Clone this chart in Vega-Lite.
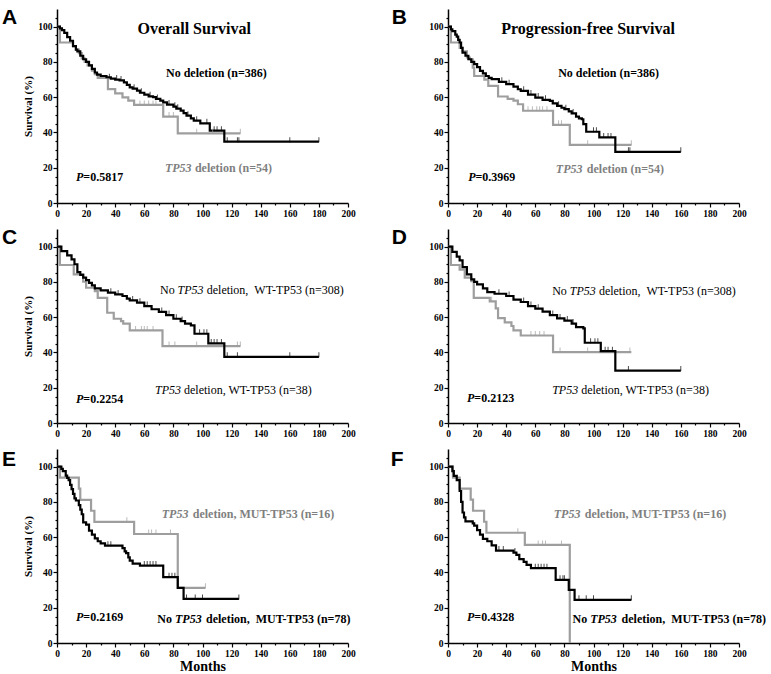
{
"$schema":"https://vega.github.io/schema/vega-lite/v6.json",
"padding":{"left":2,"top":7,"right":0,"bottom":0},
"config":{
 "view":{"stroke":null},
 "axis":{"domainColor":"#000","domainWidth":1.5,"tickColor":"#000","tickWidth":1.2,"labelFont":"Liberation Serif","labelFontWeight":"bold","labelFontSize":9.5,"labelColor":"#000","labelPadding":1,"labelOverlap":false,"labelFlush":false,"titleFont":"Liberation Serif","titleFontWeight":"bold","titleColor":"#000","grid":false},
 "axisX":{"titleFontSize":14,"titlePadding":2},
 "axisY":{"titleFontSize":11,"titlePadding":4},
 "text":{"font":"Liberation Serif","fontSize":12,"fontWeight":"bold","baseline":"middle","align":"left","color":"#000"}
},
"datasets":{
"km":[
{"p":"A","g":"del","t":0,"s":100},{"p":"A","g":"del","t":2,"s":91},{"p":"A","g":"del","t":11,"s":89},{"p":"A","g":"del","t":13,"s":87},{"p":"A","g":"del","t":15,"s":85},{"p":"A","g":"del","t":17,"s":82},{"p":"A","g":"del","t":19,"s":80},{"p":"A","g":"del","t":21,"s":78},{"p":"A","g":"del","t":24,"s":75},{"p":"A","g":"del","t":26,"s":73},{"p":"A","g":"del","t":28,"s":71},{"p":"A","g":"del","t":35,"s":64.6},{"p":"A","g":"del","t":40,"s":62.2},{"p":"A","g":"del","t":45,"s":59.9},{"p":"A","g":"del","t":49,"s":58},{"p":"A","g":"del","t":53,"s":55.6},{"p":"A","g":"del","t":73,"s":49},{"p":"A","g":"del","t":83,"s":39.5},{"p":"A","g":"del","t":126,"s":39.5},
{"p":"A","g":"no","t":0,"s":100},{"p":"A","g":"no","t":2,"s":99},{"p":"A","g":"no","t":3.4,"s":98},{"p":"A","g":"no","t":5,"s":96.5},{"p":"A","g":"no","t":7,"s":94},{"p":"A","g":"no","t":9,"s":92},{"p":"A","g":"no","t":11,"s":89},{"p":"A","g":"no","t":13,"s":87},{"p":"A","g":"no","t":14,"s":86},{"p":"A","g":"no","t":16,"s":83.5},{"p":"A","g":"no","t":18,"s":81.5},{"p":"A","g":"no","t":20,"s":80},{"p":"A","g":"no","t":22,"s":78},{"p":"A","g":"no","t":24,"s":76},{"p":"A","g":"no","t":26,"s":74},{"p":"A","g":"no","t":27.5,"s":72.8},{"p":"A","g":"no","t":30,"s":72},{"p":"A","g":"no","t":34,"s":71.3},{"p":"A","g":"no","t":37,"s":70.5},{"p":"A","g":"no","t":40,"s":70},{"p":"A","g":"no","t":43,"s":69.5},{"p":"A","g":"no","t":46,"s":68.4},{"p":"A","g":"no","t":48,"s":67},{"p":"A","g":"no","t":50,"s":65.6},{"p":"A","g":"no","t":52,"s":64.8},{"p":"A","g":"no","t":55,"s":63.7},{"p":"A","g":"no","t":57,"s":62.5},{"p":"A","g":"no","t":60,"s":61.4},{"p":"A","g":"no","t":63,"s":60.5},{"p":"A","g":"no","t":66,"s":60},{"p":"A","g":"no","t":68,"s":59},{"p":"A","g":"no","t":71,"s":58},{"p":"A","g":"no","t":73,"s":57},{"p":"A","g":"no","t":75.6,"s":55.8},{"p":"A","g":"no","t":80,"s":54.6},{"p":"A","g":"no","t":82,"s":53.5},{"p":"A","g":"no","t":85,"s":52.4},{"p":"A","g":"no","t":87,"s":51},{"p":"A","g":"no","t":89,"s":49.5},{"p":"A","g":"no","t":92,"s":48},{"p":"A","g":"no","t":94,"s":46.7},{"p":"A","g":"no","t":98.5,"s":45.2},{"p":"A","g":"no","t":105,"s":41},{"p":"A","g":"no","t":115,"s":34.8},{"p":"A","g":"no","t":180,"s":34.8},
{"p":"B","g":"del","t":0,"s":100},{"p":"B","g":"del","t":2,"s":91},{"p":"B","g":"del","t":8,"s":88},{"p":"B","g":"del","t":10,"s":86},{"p":"B","g":"del","t":13,"s":82.5},{"p":"B","g":"del","t":15,"s":81.5},{"p":"B","g":"del","t":17,"s":76.8},{"p":"B","g":"del","t":18,"s":72},{"p":"B","g":"del","t":25,"s":70},{"p":"B","g":"del","t":27.7,"s":66.4},{"p":"B","g":"del","t":34.4,"s":60.4},{"p":"B","g":"del","t":41,"s":59},{"p":"B","g":"del","t":45,"s":58},{"p":"B","g":"del","t":48,"s":56},{"p":"B","g":"del","t":51.6,"s":52.3},{"p":"B","g":"del","t":72.2,"s":44.3},{"p":"B","g":"del","t":83.7,"s":33},{"p":"B","g":"del","t":126,"s":33},
{"p":"B","g":"no","t":0,"s":100},{"p":"B","g":"no","t":2,"s":98.5},{"p":"B","g":"no","t":3,"s":97.5},{"p":"B","g":"no","t":5,"s":95.5},{"p":"B","g":"no","t":6,"s":94.3},{"p":"B","g":"no","t":7,"s":92.5},{"p":"B","g":"no","t":8,"s":91},{"p":"B","g":"no","t":9,"s":88},{"p":"B","g":"no","t":10,"s":85.3},{"p":"B","g":"no","t":12,"s":83.5},{"p":"B","g":"no","t":14,"s":81.5},{"p":"B","g":"no","t":16,"s":80},{"p":"B","g":"no","t":18,"s":78.7},{"p":"B","g":"no","t":20,"s":77},{"p":"B","g":"no","t":22,"s":74.9},{"p":"B","g":"no","t":24,"s":73.5},{"p":"B","g":"no","t":26,"s":72},{"p":"B","g":"no","t":28,"s":71},{"p":"B","g":"no","t":30,"s":70.2},{"p":"B","g":"no","t":35,"s":68.7},{"p":"B","g":"no","t":40,"s":67.4},{"p":"B","g":"no","t":45,"s":66},{"p":"B","g":"no","t":48,"s":64.5},{"p":"B","g":"no","t":50,"s":63.6},{"p":"B","g":"no","t":55,"s":61.5},{"p":"B","g":"no","t":60,"s":59.8},{"p":"B","g":"no","t":65,"s":58.5},{"p":"B","g":"no","t":70,"s":57.9},{"p":"B","g":"no","t":72,"s":56.5},{"p":"B","g":"no","t":75,"s":55.1},{"p":"B","g":"no","t":78,"s":54},{"p":"B","g":"no","t":80,"s":53.2},{"p":"B","g":"no","t":83,"s":52},{"p":"B","g":"no","t":85,"s":50.8},{"p":"B","g":"no","t":88,"s":49},{"p":"B","g":"no","t":90,"s":48},{"p":"B","g":"no","t":92,"s":47.5},{"p":"B","g":"no","t":93,"s":44.7},{"p":"B","g":"no","t":95,"s":40.4},{"p":"B","g":"no","t":104,"s":37.2},{"p":"B","g":"no","t":115,"s":29},{"p":"B","g":"no","t":160,"s":29},
{"p":"C","g":"del","t":0,"s":100},{"p":"C","g":"del","t":2,"s":89.6},{"p":"C","g":"del","t":11.5,"s":84.3},{"p":"C","g":"del","t":18,"s":80.1},{"p":"C","g":"del","t":20,"s":76.7},{"p":"C","g":"del","t":26,"s":74.8},{"p":"C","g":"del","t":28,"s":71},{"p":"C","g":"del","t":34.5,"s":62.5},{"p":"C","g":"del","t":39,"s":59.1},{"p":"C","g":"del","t":44,"s":57.8},{"p":"C","g":"del","t":45.5,"s":56.4},{"p":"C","g":"del","t":50,"s":52.5},{"p":"C","g":"del","t":72.5,"s":43.6},{"p":"C","g":"del","t":126,"s":43.6},
{"p":"C","g":"no","t":0,"s":100},{"p":"C","g":"no","t":3,"s":97.5},{"p":"C","g":"no","t":7,"s":95},{"p":"C","g":"no","t":10,"s":92.8},{"p":"C","g":"no","t":12,"s":90},{"p":"C","g":"no","t":14,"s":85.6},{"p":"C","g":"no","t":16,"s":84},{"p":"C","g":"no","t":18,"s":82.4},{"p":"C","g":"no","t":20,"s":81},{"p":"C","g":"no","t":22,"s":79.5},{"p":"C","g":"no","t":24,"s":78},{"p":"C","g":"no","t":26,"s":76.3},{"p":"C","g":"no","t":30,"s":75.2},{"p":"C","g":"no","t":35,"s":73.9},{"p":"C","g":"no","t":40,"s":72.9},{"p":"C","g":"no","t":45,"s":72},{"p":"C","g":"no","t":48,"s":70.5},{"p":"C","g":"no","t":50,"s":69.5},{"p":"C","g":"no","t":55,"s":68.2},{"p":"C","g":"no","t":60,"s":66.3},{"p":"C","g":"no","t":65,"s":64.5},{"p":"C","g":"no","t":70,"s":63},{"p":"C","g":"no","t":75,"s":61.2},{"p":"C","g":"no","t":80,"s":59.1},{"p":"C","g":"no","t":85,"s":57.8},{"p":"C","g":"no","t":88,"s":56.3},{"p":"C","g":"no","t":92,"s":55.3},{"p":"C","g":"no","t":94.5,"s":50.6},{"p":"C","g":"no","t":104,"s":45.1},{"p":"C","g":"no","t":115,"s":37.5},{"p":"C","g":"no","t":180,"s":37.5},
{"p":"D","g":"del","t":0,"s":100},{"p":"D","g":"del","t":2,"s":89.6},{"p":"D","g":"del","t":8,"s":87},{"p":"D","g":"del","t":11.5,"s":82.4},{"p":"D","g":"del","t":16,"s":80.5},{"p":"D","g":"del","t":17.7,"s":71},{"p":"D","g":"del","t":28.7,"s":69},{"p":"D","g":"del","t":32.8,"s":65},{"p":"D","g":"del","t":34.4,"s":59.5},{"p":"D","g":"del","t":39,"s":57},{"p":"D","g":"del","t":43.6,"s":55},{"p":"D","g":"del","t":45,"s":52.5},{"p":"D","g":"del","t":50,"s":49.6},{"p":"D","g":"del","t":72.2,"s":40.2},{"p":"D","g":"del","t":126,"s":40.2},
{"p":"D","g":"no","t":0,"s":100},{"p":"D","g":"no","t":3,"s":97},{"p":"D","g":"no","t":6,"s":94.3},{"p":"D","g":"no","t":8,"s":92.2},{"p":"D","g":"no","t":10,"s":88.4},{"p":"D","g":"no","t":13,"s":84.3},{"p":"D","g":"no","t":16,"s":81.4},{"p":"D","g":"no","t":18,"s":80},{"p":"D","g":"no","t":20,"s":78.6},{"p":"D","g":"no","t":24,"s":76.3},{"p":"D","g":"no","t":27,"s":74.2},{"p":"D","g":"no","t":32,"s":73.3},{"p":"D","g":"no","t":40,"s":72},{"p":"D","g":"no","t":45,"s":70},{"p":"D","g":"no","t":50,"s":68.6},{"p":"D","g":"no","t":55,"s":66.3},{"p":"D","g":"no","t":60,"s":64.8},{"p":"D","g":"no","t":65,"s":63.1},{"p":"D","g":"no","t":70,"s":61.2},{"p":"D","g":"no","t":75,"s":59.3},{"p":"D","g":"no","t":80,"s":58.1},{"p":"D","g":"no","t":85,"s":56.4},{"p":"D","g":"no","t":88,"s":54.4},{"p":"D","g":"no","t":93,"s":53.6},{"p":"D","g":"no","t":94,"s":45.5},{"p":"D","g":"no","t":105,"s":40.7},{"p":"D","g":"no","t":115,"s":29.7},{"p":"D","g":"no","t":160,"s":29.7},
{"p":"E","g":"del","t":0,"s":100},{"p":"E","g":"del","t":2,"s":93.8},{"p":"E","g":"del","t":15,"s":87.5},{"p":"E","g":"del","t":16,"s":81.2},{"p":"E","g":"del","t":23.4,"s":75},{"p":"E","g":"del","t":25.7,"s":68.7},{"p":"E","g":"del","t":53,"s":61.8},{"p":"E","g":"del","t":83,"s":31.3},{"p":"E","g":"del","t":102,"s":31.3},
{"p":"E","g":"no","t":0,"s":100},{"p":"E","g":"no","t":3,"s":98.7},{"p":"E","g":"no","t":4,"s":97.4},{"p":"E","g":"no","t":6,"s":94.9},{"p":"E","g":"no","t":7,"s":93.6},{"p":"E","g":"no","t":8,"s":92.3},{"p":"E","g":"no","t":9,"s":89.7},{"p":"E","g":"no","t":10,"s":87.2},{"p":"E","g":"no","t":11,"s":84.6},{"p":"E","g":"no","t":12,"s":82},{"p":"E","g":"no","t":13,"s":80.8},{"p":"E","g":"no","t":15,"s":78.2},{"p":"E","g":"no","t":16,"s":75.6},{"p":"E","g":"no","t":17,"s":73},{"p":"E","g":"no","t":18,"s":68.4},{"p":"E","g":"no","t":20,"s":67.1},{"p":"E","g":"no","t":22,"s":63.7},{"p":"E","g":"no","t":24,"s":61.5},{"p":"E","g":"no","t":26,"s":59.3},{"p":"E","g":"no","t":28,"s":57.7},{"p":"E","g":"no","t":30,"s":56.5},{"p":"E","g":"no","t":33,"s":55.2},{"p":"E","g":"no","t":45,"s":53.8},{"p":"E","g":"no","t":46.5,"s":52},{"p":"E","g":"no","t":47.5,"s":51},{"p":"E","g":"no","t":49,"s":48.6},{"p":"E","g":"no","t":50,"s":46.7},{"p":"E","g":"no","t":52,"s":45},{"p":"E","g":"no","t":57,"s":43.9},{"p":"E","g":"no","t":73,"s":37.3},{"p":"E","g":"no","t":83,"s":31.3},{"p":"E","g":"no","t":87,"s":25},{"p":"E","g":"no","t":125,"s":25},
{"p":"F","g":"del","t":0,"s":100},{"p":"F","g":"del","t":3.4,"s":93.75},{"p":"F","g":"del","t":8,"s":87.5},{"p":"F","g":"del","t":15.6,"s":81.25},{"p":"F","g":"del","t":17.2,"s":75},{"p":"F","g":"del","t":24.8,"s":68.75},{"p":"F","g":"del","t":26.4,"s":62.5},{"p":"F","g":"del","t":52.8,"s":55.6},{"p":"F","g":"del","t":83.7,"s":0},
{"p":"F","g":"no","t":0,"s":100},{"p":"F","g":"no","t":3,"s":97.4},{"p":"F","g":"no","t":4,"s":94.8},{"p":"F","g":"no","t":6,"s":92.3},{"p":"F","g":"no","t":8,"s":86.2},{"p":"F","g":"no","t":9,"s":80},{"p":"F","g":"no","t":10,"s":74},{"p":"F","g":"no","t":11,"s":71.2},{"p":"F","g":"no","t":12,"s":69},{"p":"F","g":"no","t":17,"s":67.8},{"p":"F","g":"no","t":18,"s":66.5},{"p":"F","g":"no","t":20,"s":64},{"p":"F","g":"no","t":22,"s":61.5},{"p":"F","g":"no","t":24,"s":59},{"p":"F","g":"no","t":27,"s":57.7},{"p":"F","g":"no","t":30,"s":55.4},{"p":"F","g":"no","t":33,"s":52.4},{"p":"F","g":"no","t":45,"s":51.3},{"p":"F","g":"no","t":47,"s":50},{"p":"F","g":"no","t":49,"s":47.6},{"p":"F","g":"no","t":52,"s":46},{"p":"F","g":"no","t":54,"s":44.3},{"p":"F","g":"no","t":57,"s":42.4},{"p":"F","g":"no","t":74,"s":35.8},{"p":"F","g":"no","t":83,"s":30.1},{"p":"F","g":"no","t":87,"s":24.5},{"p":"F","g":"no","t":126,"s":24.5}
],
"cens":[
{"p":"A","g":"del","t":57,"s":55.6},{"p":"A","g":"del","t":60,"s":55.6},{"p":"A","g":"del","t":63,"s":55.6},{"p":"A","g":"del","t":66,"s":55.6},{"p":"A","g":"del","t":68,"s":55.6},{"p":"A","g":"del","t":77,"s":49},{"p":"A","g":"del","t":80,"s":49},{"p":"A","g":"del","t":96,"s":39.5},{"p":"A","g":"del","t":107,"s":39.5},{"p":"A","g":"del","t":126,"s":39.5},
{"p":"A","g":"no","t":36,"s":70.8},{"p":"A","g":"no","t":41,"s":70},{"p":"A","g":"no","t":44,"s":69.5},{"p":"A","g":"no","t":53,"s":64.8},{"p":"A","g":"no","t":58,"s":62.5},{"p":"A","g":"no","t":64,"s":60.5},{"p":"A","g":"no","t":69,"s":59},{"p":"A","g":"no","t":77,"s":55.8},{"p":"A","g":"no","t":81,"s":54.6},{"p":"A","g":"no","t":83,"s":53.5},{"p":"A","g":"no","t":90,"s":49.5},{"p":"A","g":"no","t":96,"s":46.7},
{"p":"A","g":"no","t":103,"s":45.2},{"p":"A","g":"no","t":108,"s":41},{"p":"A","g":"no","t":110,"s":41},{"p":"A","g":"no","t":113,"s":41},{"p":"A","g":"no","t":117,"s":34.8},{"p":"A","g":"no","t":124,"s":34.8},{"p":"A","g":"no","t":125,"s":34.8},{"p":"A","g":"no","t":160,"s":34.8},{"p":"A","g":"no","t":180,"s":34.8},
{"p":"B","g":"del","t":55,"s":52.3},{"p":"B","g":"del","t":58,"s":52.3},{"p":"B","g":"del","t":61,"s":52.3},{"p":"B","g":"del","t":63,"s":52.3},{"p":"B","g":"del","t":65,"s":52.3},{"p":"B","g":"del","t":68,"s":52.3},{"p":"B","g":"del","t":76,"s":44.3},{"p":"B","g":"del","t":78,"s":44.3},{"p":"B","g":"del","t":96,"s":33},{"p":"B","g":"del","t":126,"s":33},
{"p":"B","g":"no","t":37,"s":68.7},{"p":"B","g":"no","t":42,"s":67.4},{"p":"B","g":"no","t":52,"s":63.6},{"p":"B","g":"no","t":57,"s":61.5},{"p":"B","g":"no","t":62,"s":59.8},{"p":"B","g":"no","t":67,"s":58.5},{"p":"B","g":"no","t":76,"s":55.1},{"p":"B","g":"no","t":81,"s":53.2},{"p":"B","g":"no","t":86,"s":50.8},
{"p":"B","g":"no","t":100,"s":40.4},{"p":"B","g":"no","t":102,"s":40.4},{"p":"B","g":"no","t":107,"s":37.2},{"p":"B","g":"no","t":110,"s":37.2},{"p":"B","g":"no","t":112,"s":37.2},{"p":"B","g":"no","t":124,"s":29},{"p":"B","g":"no","t":125,"s":29},{"p":"B","g":"no","t":160,"s":29},
{"p":"C","g":"del","t":54,"s":52.5},{"p":"C","g":"del","t":58,"s":52.5},{"p":"C","g":"del","t":60,"s":52.5},{"p":"C","g":"del","t":62,"s":52.5},{"p":"C","g":"del","t":66,"s":52.5},{"p":"C","g":"del","t":77,"s":43.6},{"p":"C","g":"del","t":81,"s":43.6},{"p":"C","g":"del","t":96,"s":43.6},{"p":"C","g":"del","t":124,"s":43.6},{"p":"C","g":"del","t":126,"s":43.6},
{"p":"C","g":"no","t":37,"s":73.9},{"p":"C","g":"no","t":42,"s":72.9},{"p":"C","g":"no","t":52,"s":69.5},{"p":"C","g":"no","t":57,"s":68.2},{"p":"C","g":"no","t":62,"s":66.3},{"p":"C","g":"no","t":72,"s":63},{"p":"C","g":"no","t":77,"s":61.2},{"p":"C","g":"no","t":82,"s":59.1},{"p":"C","g":"no","t":86,"s":57.8},
{"p":"C","g":"no","t":98,"s":50.6},{"p":"C","g":"no","t":101,"s":50.6},{"p":"C","g":"no","t":103,"s":50.6},{"p":"C","g":"no","t":106,"s":45.1},{"p":"C","g":"no","t":108,"s":45.1},{"p":"C","g":"no","t":110,"s":45.1},{"p":"C","g":"no","t":113,"s":45.1},{"p":"C","g":"no","t":117,"s":37.5},{"p":"C","g":"no","t":124,"s":37.5},{"p":"C","g":"no","t":160,"s":37.5},{"p":"C","g":"no","t":180,"s":37.5},
{"p":"D","g":"del","t":30,"s":69},{"p":"D","g":"del","t":57,"s":49.6},{"p":"D","g":"del","t":60,"s":49.6},{"p":"D","g":"del","t":63,"s":49.6},{"p":"D","g":"del","t":66,"s":49.6},{"p":"D","g":"del","t":77,"s":40.2},{"p":"D","g":"del","t":96,"s":40.2},{"p":"D","g":"del","t":125,"s":40.2},
{"p":"D","g":"no","t":35,"s":73.3},{"p":"D","g":"no","t":42,"s":72},{"p":"D","g":"no","t":52,"s":68.6},{"p":"D","g":"no","t":57,"s":66.3},{"p":"D","g":"no","t":62,"s":64.8},{"p":"D","g":"no","t":72,"s":61.2},{"p":"D","g":"no","t":77,"s":59.3},{"p":"D","g":"no","t":82,"s":58.1},{"p":"D","g":"no","t":86,"s":56.4},
{"p":"D","g":"no","t":98,"s":45.5},{"p":"D","g":"no","t":101,"s":45.5},{"p":"D","g":"no","t":103,"s":45.5},{"p":"D","g":"no","t":108,"s":40.7},{"p":"D","g":"no","t":110,"s":40.7},{"p":"D","g":"no","t":113,"s":40.7},{"p":"D","g":"no","t":124,"s":29.7},{"p":"D","g":"no","t":160,"s":29.7},
{"p":"E","g":"del","t":48,"s":68.7},{"p":"E","g":"del","t":63,"s":61.8},{"p":"E","g":"del","t":65,"s":61.8},{"p":"E","g":"del","t":68,"s":61.8},{"p":"E","g":"del","t":78,"s":61.8},{"p":"E","g":"del","t":102,"s":31.3},
{"p":"E","g":"no","t":35,"s":55.2},{"p":"E","g":"no","t":37,"s":55.2},{"p":"E","g":"no","t":60,"s":43.9},{"p":"E","g":"no","t":62,"s":43.9},{"p":"E","g":"no","t":64,"s":43.9},{"p":"E","g":"no","t":66,"s":43.9},{"p":"E","g":"no","t":68,"s":43.9},{"p":"E","g":"no","t":77,"s":37.3},{"p":"E","g":"no","t":79,"s":37.3},{"p":"E","g":"no","t":81,"s":37.3},{"p":"E","g":"no","t":89,"s":25},{"p":"E","g":"no","t":95,"s":25},{"p":"E","g":"no","t":100,"s":25},{"p":"E","g":"no","t":125,"s":25},
{"p":"F","g":"del","t":48,"s":62.5},{"p":"F","g":"del","t":62,"s":55.6},{"p":"F","g":"del","t":65,"s":55.6},{"p":"F","g":"del","t":67,"s":55.6},{"p":"F","g":"del","t":78,"s":55.6},
{"p":"F","g":"no","t":35,"s":52.4},{"p":"F","g":"no","t":38,"s":52.4},{"p":"F","g":"no","t":46,"s":51.3},{"p":"F","g":"no","t":60,"s":42.4},{"p":"F","g":"no","t":62,"s":42.4},{"p":"F","g":"no","t":64,"s":42.4},{"p":"F","g":"no","t":66,"s":42.4},{"p":"F","g":"no","t":68,"s":42.4},{"p":"F","g":"no","t":77,"s":35.8},{"p":"F","g":"no","t":79,"s":35.8},{"p":"F","g":"no","t":80,"s":35.8},{"p":"F","g":"no","t":90,"s":24.5},{"p":"F","g":"no","t":95,"s":24.5},{"p":"F","g":"no","t":100,"s":24.5},{"p":"F","g":"no","t":126,"s":24.5}
],
"txt":[
{"p":"A","k":"letter","t":-37.8,"s":104.8,"txt":"A"},
{"p":"A","k":"ttl","t":94.3,"s":98.7,"txt":"Overall Survival"},
{"p":"A","k":"bb","t":74.9,"s":73.5,"txt":"No deletion (n=386)"},
{"p":"A","k":"bgi","t":74.2,"s":20.1,"txt":"TP53"},
{"p":"A","k":"bg","t":94.8,"s":20.1,"txt":"deletion (n=54)"},
{"p":"A","k":"bbi","t":13.1,"s":14.9,"txt":"P"},
{"p":"A","k":"bb","t":18.1,"s":14.9,"txt":"=0.5817"},
{"p":"B","k":"letter","t":-38.7,"s":104.8,"txt":"B"},
{"p":"B","k":"ttl","t":96.3,"s":98.7,"txt":"Progression-free Survival"},
{"p":"B","k":"bb","t":75.7,"s":73.5,"txt":"No deletion (n=386)"},
{"p":"B","k":"bgi","t":74.1,"s":19.5,"txt":"TP53"},
{"p":"B","k":"bg","t":95.4,"s":19.5,"txt":"deletion (n=54)"},
{"p":"B","k":"bbi","t":13.9,"s":14.9,"txt":"P"},
{"p":"B","k":"bb","t":18.9,"s":14.9,"txt":"=0.3969"},
{"p":"C","k":"letter","t":-37.8,"s":104.9,"txt":"C"},
{"p":"C","k":"rb","t":70.8,"s":75.2,"txt":"No"},
{"p":"C","k":"rbi","t":82.9,"s":75.2,"txt":"TP53"},
{"p":"C","k":"rb","t":102.9,"s":75.2,"txt":"deletion,\u00a0\u00a0WT-TP53 (n=308)"},
{"p":"C","k":"rbi","t":67.4,"s":18.5,"txt":"TP53"},
{"p":"C","k":"rb","t":87.3,"s":18.5,"txt":"deletion, WT-TP53 (n=38)"},
{"p":"C","k":"bbi","t":13.1,"s":13.8,"txt":"P"},
{"p":"C","k":"bb","t":18.1,"s":13.8,"txt":"=0.2254"},
{"p":"D","k":"letter","t":-38.7,"s":104.9,"txt":"D"},
{"p":"D","k":"rb","t":71.6,"s":74.8,"txt":"No"},
{"p":"D","k":"rbi","t":83.7,"s":74.8,"txt":"TP53"},
{"p":"D","k":"rb","t":103.7,"s":74.8,"txt":"deletion,\u00a0\u00a0WT-TP53 (n=308)"},
{"p":"D","k":"rbi","t":71.6,"s":18.5,"txt":"TP53"},
{"p":"D","k":"rb","t":91.5,"s":18.5,"txt":"deletion, WT-TP53 (n=38)"},
{"p":"D","k":"bbi","t":13.1,"s":14.2,"txt":"P"},
{"p":"D","k":"bb","t":18.1,"s":14.2,"txt":"=0.2123"},
{"p":"E","k":"letter","t":-37.8,"s":103.5,"txt":"E"},
{"p":"E","k":"bgi","t":72,"s":73.4,"txt":"TP53"},
{"p":"E","k":"bg","t":93.3,"s":73.4,"txt":"deletion, MUT-TP53 (n=16)"},
{"p":"E","k":"bb","t":68.9,"s":13.8,"txt":"No"},
{"p":"E","k":"bbi","t":81.1,"s":13.8,"txt":"TP53"},
{"p":"E","k":"bb","t":102.4,"s":13.8,"txt":"deletion,\u00a0\u00a0MUT-TP53 (n=78)"},
{"p":"E","k":"bbi","t":13.1,"s":14.7,"txt":"P"},
{"p":"E","k":"bb","t":18.1,"s":14.7,"txt":"=0.2169"},
{"p":"F","k":"letter","t":-39.4,"s":103.5,"txt":"F"},
{"p":"F","k":"bgi","t":72.7,"s":73.1,"txt":"TP53"},
{"p":"F","k":"bg","t":94,"s":73.1,"txt":"deletion, MUT-TP53 (n=16)"},
{"p":"F","k":"bb","t":85.6,"s":13.8,"txt":"No"},
{"p":"F","k":"bbi","t":97.7,"s":13.8,"txt":"TP53"},
{"p":"F","k":"bb","t":119.3,"s":13.8,"txt":"deletion,\u00a0\u00a0MUT-TP53 (n=78)"},
{"p":"F","k":"bbi","t":13.1,"s":14.7,"txt":"P"},
{"p":"F","k":"bb","t":18.1,"s":14.7,"txt":"=0.4328"}
]
},
"columns":2,
"spacing":{"row":26,"column":100},
"bounds":"flush",
"concat":[
{"width":291,"height":194,"layer":[
 {"data":{"name":"km"},"transform":[{"filter":"datum.p=='A'"}],"mark":{"type":"line","interpolate":"step-after","strokeWidth":2.2},
  "encoding":{"x":{"field":"t","type":"quantitative","scale":{"domain":[0,200],"nice":false,"zero":false},"axis":{"title":null,"tickCount":100,"labelOverlap":false,"values":[0,10,20,30,40,50,60,70,80,90,100,110,120,130,140,150,160,170,180,190,200],"labelExpr":"datum.value % 20 === 0 ? datum.label : ''","tickSize":{"condition":{"test":"datum.value % 20 === 0","value":4},"value":2}}},
   "y":{"field":"s","type":"quantitative","scale":{"domain":[0,110],"nice":false},"axis":{"title":"Survival (%)","tickCount":100,"labelOverlap":false,"values":[0,5,10,15,20,25,30,35,40,45,50,55,60,65,70,75,80,85,90,95,100,105],"labelExpr":"datum.value % 20 === 0 ? datum.label : ''","tickSize":{"condition":{"test":"datum.value % 20 === 0","value":4},"value":2}}},
   "color":{"field":"g","type":"nominal","scale":{"domain":["no","del"],"range":["#000000","#9e9e9e"]},"legend":null}}},
 {"data":{"name":"cens"},"transform":[{"filter":"datum.p=='A'"}],"mark":{"type":"tick","orient":"vertical","size":5,"thickness":1,"yOffset":-2},"encoding":{"x":{"field":"t","type":"quantitative"},"y":{"field":"s","type":"quantitative"},"color":{"field":"g","type":"nominal","legend":null}}},
 {"data":{"name":"txt"},"transform":[{"filter":"datum.p=='A' && datum.k=='letter'"}],"mark":{"type":"text","font":"Liberation Sans","fontSize":21},"encoding":{"x":{"field":"t","type":"quantitative"},"y":{"field":"s","type":"quantitative"},"text":{"field":"txt"}}},
 {"data":{"name":"txt"},"transform":[{"filter":"datum.p=='A' && datum.k=='ttl'"}],"mark":{"type":"text","fontSize":16,"align":"center"},"encoding":{"x":{"field":"t","type":"quantitative"},"y":{"field":"s","type":"quantitative"},"text":{"field":"txt"}}},
 {"data":{"name":"txt"},"transform":[{"filter":"datum.p=='A' && datum.k=='bb'"}],"mark":{"type":"text"},"encoding":{"x":{"field":"t","type":"quantitative"},"y":{"field":"s","type":"quantitative"},"text":{"field":"txt"}}},
 {"data":{"name":"txt"},"transform":[{"filter":"datum.p=='A' && datum.k=='bbi'"}],"mark":{"type":"text","fontStyle":"italic"},"encoding":{"x":{"field":"t","type":"quantitative"},"y":{"field":"s","type":"quantitative"},"text":{"field":"txt"}}},
 {"data":{"name":"txt"},"transform":[{"filter":"datum.p=='A' && datum.k=='bg'"}],"mark":{"type":"text","color":"#7f7f7f"},"encoding":{"x":{"field":"t","type":"quantitative"},"y":{"field":"s","type":"quantitative"},"text":{"field":"txt"}}},
 {"data":{"name":"txt"},"transform":[{"filter":"datum.p=='A' && datum.k=='bgi'"}],"mark":{"type":"text","color":"#7f7f7f","fontStyle":"italic"},"encoding":{"x":{"field":"t","type":"quantitative"},"y":{"field":"s","type":"quantitative"},"text":{"field":"txt"}}}
]},
{"width":291,"height":194,"layer":[
 {"data":{"name":"km"},"transform":[{"filter":"datum.p=='B'"}],"mark":{"type":"line","interpolate":"step-after","strokeWidth":2.2},
  "encoding":{"x":{"field":"t","type":"quantitative","scale":{"domain":[0,200],"nice":false,"zero":false},"axis":{"title":null,"tickCount":100,"labelOverlap":false,"values":[0,10,20,30,40,50,60,70,80,90,100,110,120,130,140,150,160,170,180,190,200],"labelExpr":"datum.value % 20 === 0 ? datum.label : ''","tickSize":{"condition":{"test":"datum.value % 20 === 0","value":4},"value":2}}},
   "y":{"field":"s","type":"quantitative","scale":{"domain":[0,110],"nice":false},"axis":{"title":null,"tickCount":100,"labelOverlap":false,"values":[0,5,10,15,20,25,30,35,40,45,50,55,60,65,70,75,80,85,90,95,100,105],"labelExpr":"datum.value % 20 === 0 ? datum.label : ''","tickSize":{"condition":{"test":"datum.value % 20 === 0","value":4},"value":2}}},
   "color":{"field":"g","type":"nominal","scale":{"domain":["no","del"],"range":["#000000","#9e9e9e"]},"legend":null}}},
 {"data":{"name":"cens"},"transform":[{"filter":"datum.p=='B'"}],"mark":{"type":"tick","orient":"vertical","size":5,"thickness":1,"yOffset":-2},"encoding":{"x":{"field":"t","type":"quantitative"},"y":{"field":"s","type":"quantitative"},"color":{"field":"g","type":"nominal","legend":null}}},
 {"data":{"name":"txt"},"transform":[{"filter":"datum.p=='B' && datum.k=='letter'"}],"mark":{"type":"text","font":"Liberation Sans","fontSize":21},"encoding":{"x":{"field":"t","type":"quantitative"},"y":{"field":"s","type":"quantitative"},"text":{"field":"txt"}}},
 {"data":{"name":"txt"},"transform":[{"filter":"datum.p=='B' && datum.k=='ttl'"}],"mark":{"type":"text","fontSize":16,"align":"center"},"encoding":{"x":{"field":"t","type":"quantitative"},"y":{"field":"s","type":"quantitative"},"text":{"field":"txt"}}},
 {"data":{"name":"txt"},"transform":[{"filter":"datum.p=='B' && datum.k=='bb'"}],"mark":{"type":"text"},"encoding":{"x":{"field":"t","type":"quantitative"},"y":{"field":"s","type":"quantitative"},"text":{"field":"txt"}}},
 {"data":{"name":"txt"},"transform":[{"filter":"datum.p=='B' && datum.k=='bbi'"}],"mark":{"type":"text","fontStyle":"italic"},"encoding":{"x":{"field":"t","type":"quantitative"},"y":{"field":"s","type":"quantitative"},"text":{"field":"txt"}}},
 {"data":{"name":"txt"},"transform":[{"filter":"datum.p=='B' && datum.k=='bg'"}],"mark":{"type":"text","color":"#7f7f7f"},"encoding":{"x":{"field":"t","type":"quantitative"},"y":{"field":"s","type":"quantitative"},"text":{"field":"txt"}}},
 {"data":{"name":"txt"},"transform":[{"filter":"datum.p=='B' && datum.k=='bgi'"}],"mark":{"type":"text","color":"#7f7f7f","fontStyle":"italic"},"encoding":{"x":{"field":"t","type":"quantitative"},"y":{"field":"s","type":"quantitative"},"text":{"field":"txt"}}}
]},
{"width":291,"height":194,"layer":[
 {"data":{"name":"km"},"transform":[{"filter":"datum.p=='C'"}],"mark":{"type":"line","interpolate":"step-after","strokeWidth":2.2},
  "encoding":{"x":{"field":"t","type":"quantitative","scale":{"domain":[0,200],"nice":false,"zero":false},"axis":{"title":null,"tickCount":100,"labelOverlap":false,"values":[0,10,20,30,40,50,60,70,80,90,100,110,120,130,140,150,160,170,180,190,200],"labelExpr":"datum.value % 20 === 0 ? datum.label : ''","tickSize":{"condition":{"test":"datum.value % 20 === 0","value":4},"value":2}}},
   "y":{"field":"s","type":"quantitative","scale":{"domain":[0,110],"nice":false},"axis":{"title":"Survival (%)","tickCount":100,"labelOverlap":false,"values":[0,5,10,15,20,25,30,35,40,45,50,55,60,65,70,75,80,85,90,95,100,105],"labelExpr":"datum.value % 20 === 0 ? datum.label : ''","tickSize":{"condition":{"test":"datum.value % 20 === 0","value":4},"value":2}}},
   "color":{"field":"g","type":"nominal","scale":{"domain":["no","del"],"range":["#000000","#9e9e9e"]},"legend":null}}},
 {"data":{"name":"cens"},"transform":[{"filter":"datum.p=='C'"}],"mark":{"type":"tick","orient":"vertical","size":5,"thickness":1,"yOffset":-2},"encoding":{"x":{"field":"t","type":"quantitative"},"y":{"field":"s","type":"quantitative"},"color":{"field":"g","type":"nominal","legend":null}}},
 {"data":{"name":"txt"},"transform":[{"filter":"datum.p=='C' && datum.k=='letter'"}],"mark":{"type":"text","font":"Liberation Sans","fontSize":21},"encoding":{"x":{"field":"t","type":"quantitative"},"y":{"field":"s","type":"quantitative"},"text":{"field":"txt"}}},
 {"data":{"name":"txt"},"transform":[{"filter":"datum.p=='C' && datum.k=='bb'"}],"mark":{"type":"text"},"encoding":{"x":{"field":"t","type":"quantitative"},"y":{"field":"s","type":"quantitative"},"text":{"field":"txt"}}},
 {"data":{"name":"txt"},"transform":[{"filter":"datum.p=='C' && datum.k=='bbi'"}],"mark":{"type":"text","fontStyle":"italic"},"encoding":{"x":{"field":"t","type":"quantitative"},"y":{"field":"s","type":"quantitative"},"text":{"field":"txt"}}},
 {"data":{"name":"txt"},"transform":[{"filter":"datum.p=='C' && datum.k=='rb'"}],"mark":{"type":"text","fontWeight":"normal"},"encoding":{"x":{"field":"t","type":"quantitative"},"y":{"field":"s","type":"quantitative"},"text":{"field":"txt"}}},
 {"data":{"name":"txt"},"transform":[{"filter":"datum.p=='C' && datum.k=='rbi'"}],"mark":{"type":"text","fontWeight":"normal","fontStyle":"italic"},"encoding":{"x":{"field":"t","type":"quantitative"},"y":{"field":"s","type":"quantitative"},"text":{"field":"txt"}}}
]},
{"width":291,"height":194,"layer":[
 {"data":{"name":"km"},"transform":[{"filter":"datum.p=='D'"}],"mark":{"type":"line","interpolate":"step-after","strokeWidth":2.2},
  "encoding":{"x":{"field":"t","type":"quantitative","scale":{"domain":[0,200],"nice":false,"zero":false},"axis":{"title":null,"tickCount":100,"labelOverlap":false,"values":[0,10,20,30,40,50,60,70,80,90,100,110,120,130,140,150,160,170,180,190,200],"labelExpr":"datum.value % 20 === 0 ? datum.label : ''","tickSize":{"condition":{"test":"datum.value % 20 === 0","value":4},"value":2}}},
   "y":{"field":"s","type":"quantitative","scale":{"domain":[0,110],"nice":false},"axis":{"title":null,"tickCount":100,"labelOverlap":false,"values":[0,5,10,15,20,25,30,35,40,45,50,55,60,65,70,75,80,85,90,95,100,105],"labelExpr":"datum.value % 20 === 0 ? datum.label : ''","tickSize":{"condition":{"test":"datum.value % 20 === 0","value":4},"value":2}}},
   "color":{"field":"g","type":"nominal","scale":{"domain":["no","del"],"range":["#000000","#9e9e9e"]},"legend":null}}},
 {"data":{"name":"cens"},"transform":[{"filter":"datum.p=='D'"}],"mark":{"type":"tick","orient":"vertical","size":5,"thickness":1,"yOffset":-2},"encoding":{"x":{"field":"t","type":"quantitative"},"y":{"field":"s","type":"quantitative"},"color":{"field":"g","type":"nominal","legend":null}}},
 {"data":{"name":"txt"},"transform":[{"filter":"datum.p=='D' && datum.k=='letter'"}],"mark":{"type":"text","font":"Liberation Sans","fontSize":21},"encoding":{"x":{"field":"t","type":"quantitative"},"y":{"field":"s","type":"quantitative"},"text":{"field":"txt"}}},
 {"data":{"name":"txt"},"transform":[{"filter":"datum.p=='D' && datum.k=='bb'"}],"mark":{"type":"text"},"encoding":{"x":{"field":"t","type":"quantitative"},"y":{"field":"s","type":"quantitative"},"text":{"field":"txt"}}},
 {"data":{"name":"txt"},"transform":[{"filter":"datum.p=='D' && datum.k=='bbi'"}],"mark":{"type":"text","fontStyle":"italic"},"encoding":{"x":{"field":"t","type":"quantitative"},"y":{"field":"s","type":"quantitative"},"text":{"field":"txt"}}},
 {"data":{"name":"txt"},"transform":[{"filter":"datum.p=='D' && datum.k=='rb'"}],"mark":{"type":"text","fontWeight":"normal"},"encoding":{"x":{"field":"t","type":"quantitative"},"y":{"field":"s","type":"quantitative"},"text":{"field":"txt"}}},
 {"data":{"name":"txt"},"transform":[{"filter":"datum.p=='D' && datum.k=='rbi'"}],"mark":{"type":"text","fontWeight":"normal","fontStyle":"italic"},"encoding":{"x":{"field":"t","type":"quantitative"},"y":{"field":"s","type":"quantitative"},"text":{"field":"txt"}}}
]},
{"width":291,"height":194,"layer":[
 {"data":{"name":"km"},"transform":[{"filter":"datum.p=='E'"}],"mark":{"type":"line","interpolate":"step-after","strokeWidth":2.2},
  "encoding":{"x":{"field":"t","type":"quantitative","scale":{"domain":[0,200],"nice":false,"zero":false},"axis":{"title":"Months","tickCount":100,"labelOverlap":false,"values":[0,10,20,30,40,50,60,70,80,90,100,110,120,130,140,150,160,170,180,190,200],"labelExpr":"datum.value % 20 === 0 ? datum.label : ''","tickSize":{"condition":{"test":"datum.value % 20 === 0","value":4},"value":2}}},
   "y":{"field":"s","type":"quantitative","scale":{"domain":[0,110],"nice":false},"axis":{"title":"Survival (%)","tickCount":100,"labelOverlap":false,"values":[0,5,10,15,20,25,30,35,40,45,50,55,60,65,70,75,80,85,90,95,100,105],"labelExpr":"datum.value % 20 === 0 ? datum.label : ''","tickSize":{"condition":{"test":"datum.value % 20 === 0","value":4},"value":2}}},
   "color":{"field":"g","type":"nominal","scale":{"domain":["no","del"],"range":["#000000","#9e9e9e"]},"legend":null}}},
 {"data":{"name":"cens"},"transform":[{"filter":"datum.p=='E'"}],"mark":{"type":"tick","orient":"vertical","size":5,"thickness":1,"yOffset":-2},"encoding":{"x":{"field":"t","type":"quantitative"},"y":{"field":"s","type":"quantitative"},"color":{"field":"g","type":"nominal","legend":null}}},
 {"data":{"name":"txt"},"transform":[{"filter":"datum.p=='E' && datum.k=='letter'"}],"mark":{"type":"text","font":"Liberation Sans","fontSize":21},"encoding":{"x":{"field":"t","type":"quantitative"},"y":{"field":"s","type":"quantitative"},"text":{"field":"txt"}}},
 {"data":{"name":"txt"},"transform":[{"filter":"datum.p=='E' && datum.k=='bb'"}],"mark":{"type":"text"},"encoding":{"x":{"field":"t","type":"quantitative"},"y":{"field":"s","type":"quantitative"},"text":{"field":"txt"}}},
 {"data":{"name":"txt"},"transform":[{"filter":"datum.p=='E' && datum.k=='bbi'"}],"mark":{"type":"text","fontStyle":"italic"},"encoding":{"x":{"field":"t","type":"quantitative"},"y":{"field":"s","type":"quantitative"},"text":{"field":"txt"}}},
 {"data":{"name":"txt"},"transform":[{"filter":"datum.p=='E' && datum.k=='bg'"}],"mark":{"type":"text","color":"#7f7f7f"},"encoding":{"x":{"field":"t","type":"quantitative"},"y":{"field":"s","type":"quantitative"},"text":{"field":"txt"}}},
 {"data":{"name":"txt"},"transform":[{"filter":"datum.p=='E' && datum.k=='bgi'"}],"mark":{"type":"text","color":"#7f7f7f","fontStyle":"italic"},"encoding":{"x":{"field":"t","type":"quantitative"},"y":{"field":"s","type":"quantitative"},"text":{"field":"txt"}}}
]},
{"width":291,"height":194,"layer":[
 {"data":{"name":"km"},"transform":[{"filter":"datum.p=='F'"}],"mark":{"type":"line","interpolate":"step-after","strokeWidth":2.2},
  "encoding":{"x":{"field":"t","type":"quantitative","scale":{"domain":[0,200],"nice":false,"zero":false},"axis":{"title":"Months","tickCount":100,"labelOverlap":false,"values":[0,10,20,30,40,50,60,70,80,90,100,110,120,130,140,150,160,170,180,190,200],"labelExpr":"datum.value % 20 === 0 ? datum.label : ''","tickSize":{"condition":{"test":"datum.value % 20 === 0","value":4},"value":2}}},
   "y":{"field":"s","type":"quantitative","scale":{"domain":[0,110],"nice":false},"axis":{"title":null,"tickCount":100,"labelOverlap":false,"values":[0,5,10,15,20,25,30,35,40,45,50,55,60,65,70,75,80,85,90,95,100,105],"labelExpr":"datum.value % 20 === 0 ? datum.label : ''","tickSize":{"condition":{"test":"datum.value % 20 === 0","value":4},"value":2}}},
   "color":{"field":"g","type":"nominal","scale":{"domain":["no","del"],"range":["#000000","#9e9e9e"]},"legend":null}}},
 {"data":{"name":"cens"},"transform":[{"filter":"datum.p=='F'"}],"mark":{"type":"tick","orient":"vertical","size":5,"thickness":1,"yOffset":-2},"encoding":{"x":{"field":"t","type":"quantitative"},"y":{"field":"s","type":"quantitative"},"color":{"field":"g","type":"nominal","legend":null}}},
 {"data":{"name":"txt"},"transform":[{"filter":"datum.p=='F' && datum.k=='letter'"}],"mark":{"type":"text","font":"Liberation Sans","fontSize":21},"encoding":{"x":{"field":"t","type":"quantitative"},"y":{"field":"s","type":"quantitative"},"text":{"field":"txt"}}},
 {"data":{"name":"txt"},"transform":[{"filter":"datum.p=='F' && datum.k=='bb'"}],"mark":{"type":"text"},"encoding":{"x":{"field":"t","type":"quantitative"},"y":{"field":"s","type":"quantitative"},"text":{"field":"txt"}}},
 {"data":{"name":"txt"},"transform":[{"filter":"datum.p=='F' && datum.k=='bbi'"}],"mark":{"type":"text","fontStyle":"italic"},"encoding":{"x":{"field":"t","type":"quantitative"},"y":{"field":"s","type":"quantitative"},"text":{"field":"txt"}}},
 {"data":{"name":"txt"},"transform":[{"filter":"datum.p=='F' && datum.k=='bg'"}],"mark":{"type":"text","color":"#7f7f7f"},"encoding":{"x":{"field":"t","type":"quantitative"},"y":{"field":"s","type":"quantitative"},"text":{"field":"txt"}}},
 {"data":{"name":"txt"},"transform":[{"filter":"datum.p=='F' && datum.k=='bgi'"}],"mark":{"type":"text","color":"#7f7f7f","fontStyle":"italic"},"encoding":{"x":{"field":"t","type":"quantitative"},"y":{"field":"s","type":"quantitative"},"text":{"field":"txt"}}}
]}
]
}
